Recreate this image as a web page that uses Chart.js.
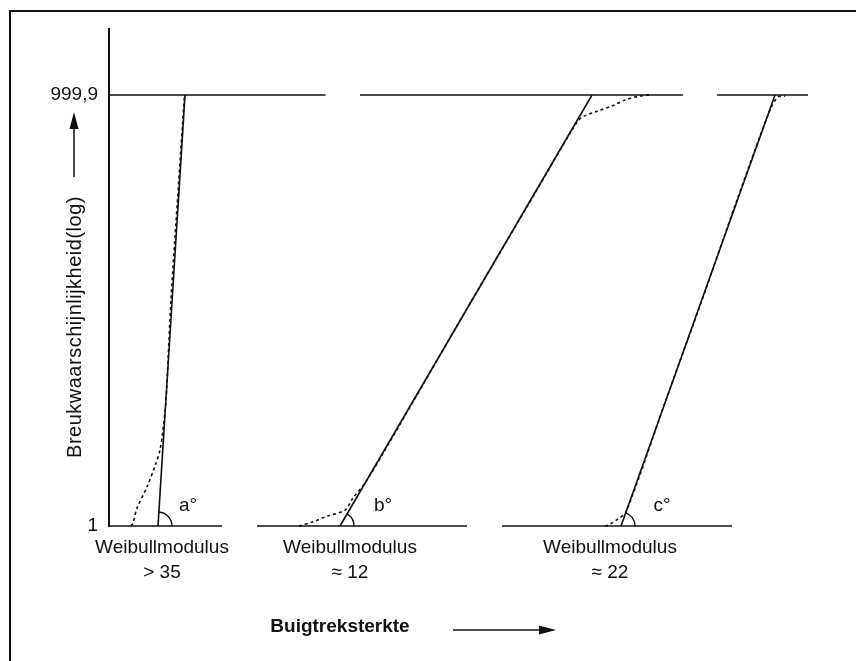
<!DOCTYPE html>
<html>
<head>
<meta charset="utf-8">
<script src="https://cdn.jsdelivr.net/npm/chart.js@4.4.0/dist/chart.umd.min.js"></script>
<style>
  html, body { margin: 0; padding: 0; background: #fff; }
</style>
</head>
<body>
<canvas id="weibullChart" width="856" height="661"></canvas>
<script>
// y axis: breaking probability on a log scale, only two ticks printed
const yTicks = [1, 999.9];
const yTickLabels = ['1', '999,9'];
const yTitle = 'Breukwaarschijnlijkheid(log)';
const xTitle = 'Buigtreksterkte';

const angleNames = ['a°', 'b°', 'c°'];
const moduli = ['> 35', '≈ 12', '≈ 22'];

// straight fitted lines, [strength, probability]
const fitA = [[4.9, 1], [7.6, 999.9]];
const fitB = [[23.1, 1], [48.3, 999.9]];
const fitC = [[51.2, 1], [66.6, 999.9]];

// measured (dashed) curves
const curveA = [[2.2, 1], [2.4, 1.05], [2.8, 1.33], [3.8, 1.87], [4.7, 2.74], [5.1, 3.38],
                [5.4, 4.66], [5.7, 7.54], [6.2, 37.4], [6.85, 186], [7.55, 999.9]];
const curveB = [[19.0, 1], [20.4, 1.07], [21.8, 1.17], [23.6, 1.29], [24.4, 1.57], [25.6, 1.99],
                [27.6, 3.38], [36.3, 37.4], [42.2, 186], [46.3, 570], [47.2, 692],
                [48.9, 774], [50.3, 838], [51.6, 923], [53.1, 984], [54.1, 999.9]];
const curveC = [[49.6, 1], [50.0, 1.02], [50.9, 1.12], [51.7, 1.25], [55.7, 7.54],
                [59.3, 37.4], [62.8, 186], [66.1, 786], [66.9, 968], [67.6, 984]];

// broken base lines (p = 1) and top lines (p = 999,9)
const baseLines = [[[0, 1], [11.3, 1]], [[14.8, 1], [35.8, 1]], [[39.3, 1], [62.3, 1]]];
const topLines = [[[0, 999.9], [21.65, 999.9]], [[25.1, 999.9], [57.4, 999.9]], [[60.8, 999.9], [69.9, 999.9]]];

const ink = '#111';
const fontFamily = '"Liberation Sans", Arial, Helvetica, sans-serif';

function lineSet(pts, dashed, width) {
    return {
        data: pts.map(p => ({ x: p[0], y: p[1] })),
        showLine: true,
        borderColor: ink,
        borderWidth: width,
        borderDash: dashed ? [3, 3] : [],
        pointRadius: 0,
        tension: dashed ? 0.3 : 0,
        fill: false,
        clip: false,
    };
}

const fits = [fitA, fitB, fitC];
const datasets = [];
baseLines.forEach(l => datasets.push(lineSet(l, false, 1.6)));
topLines.forEach(l => datasets.push(lineSet(l, false, 1.6)));
fits.forEach(l => datasets.push(lineSet(l, false, 1.6)));
[curveA, curveB, curveC].forEach(l => datasets.push(lineSet(l, true, 1.6)));

const sketchPlugin = {
    id: 'sketch',
    afterDraw(chart) {
        const ctx = chart.ctx;
        const xs = chart.scales.x;
        const ys = chart.scales.y;
        ctx.save();
        ctx.strokeStyle = ink;
        ctx.fillStyle = ink;

        // frame (top and left only)
        ctx.lineWidth = 2;
        ctx.beginPath();
        ctx.moveTo(10, 661);
        ctx.lineTo(10, 11);
        ctx.lineTo(856, 11);
        ctx.stroke();

        // up arrow beside the y axis
        ctx.lineWidth = 1.5;
        ctx.beginPath();
        ctx.moveTo(74, 177);
        ctx.lineTo(74, 127);
        ctx.stroke();
        ctx.beginPath();
        ctx.moveTo(74, 112);
        ctx.lineTo(69.5, 129);
        ctx.lineTo(78.5, 129);
        ctx.closePath();
        ctx.fill();

        // y title
        ctx.save();
        ctx.translate(75, 327);
        ctx.rotate(-Math.PI / 2);
        ctx.font = '20px ' + fontFamily;
        ctx.letterSpacing = '0.5px';
        ctx.textAlign = 'center';
        ctx.textBaseline = 'middle';
        ctx.fillText(yTitle, 0, 0);
        ctx.restore();

        // angle arcs and names
        const nameDx = [30, 43, 41];
        const labelX = [5.3, 24.1, 50.1];
        fits.forEach((f, i) => {
            const bx = xs.getPixelForValue(f[0][0]);
            const by = ys.getPixelForValue(f[0][1]);
            const tx = xs.getPixelForValue(f[1][0]);
            const ty = ys.getPixelForValue(f[1][1]);
            const theta = Math.atan2(by - ty, tx - bx);
            ctx.lineWidth = 1.4;
            ctx.beginPath();
            ctx.arc(bx, by, 14, -theta, 0);
            ctx.stroke();

            ctx.font = '19px ' + fontFamily;
            ctx.textAlign = 'center';
            ctx.textBaseline = 'middle';
            ctx.fillText(angleNames[i], bx + nameDx[i], by - 20);

            const lx = xs.getPixelForValue(labelX[i]);
            ctx.fillText('Weibullmodulus', lx, 548);
            ctx.fillText(moduli[i], lx, 573);
        });

        // x title and arrow
        ctx.font = 'bold 19px ' + fontFamily;
        ctx.textAlign = 'center';
        ctx.textBaseline = 'middle';
        ctx.fillText(xTitle, 340, 627);
        ctx.lineWidth = 1.5;
        ctx.beginPath();
        ctx.moveTo(453, 630);
        ctx.lineTo(542, 630);
        ctx.stroke();
        ctx.beginPath();
        ctx.moveTo(556, 630);
        ctx.lineTo(539, 625.5);
        ctx.lineTo(539, 634.5);
        ctx.closePath();
        ctx.fill();

        ctx.restore();
    }
};

new Chart(document.getElementById('weibullChart'), {
    type: 'scatter',
    data: { datasets: datasets },
    options: {
        responsive: false,
        devicePixelRatio: 1,
        animation: false,
        layout: { padding: { left: 10, top: 29, right: 17, bottom: 135 } },
        plugins: {
            legend: { display: false },
            tooltip: { enabled: false },
        },
        scales: {
            x: {
                type: 'linear',
                min: 0,
                max: 73,
                display: false,
            },
            y: {
                type: 'logarithmic',
                min: 1,
                max: 2880,
                afterFit: (scale) => { scale.width = 99; },
                afterBuildTicks: (scale) => {
                    scale.ticks = yTicks.map(v => ({ value: v }));
                },
                border: { display: true, color: ink, width: 2 },
                grid: { display: true, drawOnChartArea: false, drawTicks: false },
                ticks: {
                    padding: 11,
                    color: ink,
                    font: { family: fontFamily, size: 19 },
                    callback: (value, index) => yTickLabels[index],
                },
            },
        },
    },
    plugins: [sketchPlugin],
});
</script>
</body>
</html>
